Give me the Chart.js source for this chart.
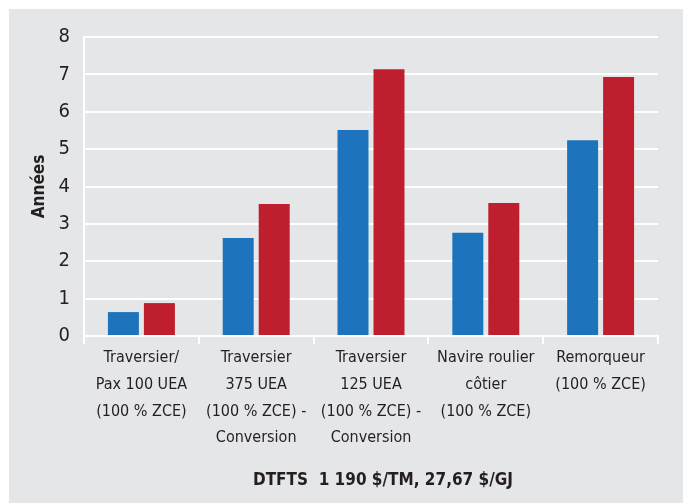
<!DOCTYPE html>
<html lang="fr">
<head>
<meta charset="utf-8">
<title>Années – DTFTS</title>
<script src="https://cdn.jsdelivr.net/npm/chart.js@4/dist/chart.umd.min.js"></script>
<style>
  html, body { margin: 0; padding: 0; background: #ffffff; }
  #frame { position: absolute; left: 9px; top: 9px; width: 674px; height: 494px; background: #e5e6e8; }
  canvas { display: block; }
</style>
</head>
<body>
<div id="frame"><canvas id="chart" width="674" height="494"></canvas></div>
<script>
// Navires (catégories) – libellés sur plusieurs lignes
const categories = [
  ["Traversier/", "Pax 100 UEA", "(100 % ZCE)"],
  ["Traversier", "375 UEA", "(100 % ZCE) -", "Conversion"],
  ["Traversier", "125 UEA", "(100 % ZCE) -", "Conversion"],
  ["Navire roulier", "côtier", "(100 % ZCE)"],
  ["Remorqueur", "(100 % ZCE)"]
];

// Années, première série (bleu)
const seriesBlue = [0.64, 2.62, 5.51, 2.76, 5.24];
// Années, seconde série (rouge)
const seriesRed = [0.88, 3.53, 7.14, 3.56, 6.93];

const yTicks = [0, 1, 2, 3, 4, 5, 6, 7, 8];
const yTitle = "Années";
const bottomTitle = "DTFTS  1 190 $/TM, 27,67 $/GJ";

const FONT = "'Liberation Sans Narrow', 'DejaVu Sans Condensed', 'Arial Narrow', sans-serif";
const TEXT = "#231f20";

// Titre centré sous le graphique
const bottomTitlePlugin = {
  id: "bottomTitle",
  afterDraw(chart) {
    const { ctx, chartArea } = chart;
    ctx.save();
    ctx.font = "bold 17px " + FONT;
    ctx.fillStyle = TEXT;
    ctx.textAlign = "center";
    ctx.textBaseline = "middle";
    ctx.fillText(bottomTitle, (chartArea.left + chartArea.right) / 2 + 12, 472);
    ctx.restore();
  }
};

new Chart(document.getElementById("chart"), {
  type: "bar",
  data: {
    labels: categories,
    datasets: [
      { data: seriesBlue, backgroundColor: "#1d74bc", borderWidth: 0 },
      { data: seriesRed, backgroundColor: "#be1e2d", borderWidth: 0 }
    ]
  },
  options: {
    responsive: false,
    devicePixelRatio: 1,
    animation: false,
    layout: { padding: { left: 0, top: 28, right: 25, bottom: 0 } },
    datasets: { bar: { categoryPercentage: 0.627, barPercentage: 0.861 } },
    plugins: {
      legend: { display: false },
      tooltip: { enabled: false },
      title: { display: false }
    },
    scales: {
      x: {
        offset: true,
        grid: {
          offset: true,
          color: (c) => (c.index === 0 || c.index === categories.length) ? "#ffffff" : "rgba(0,0,0,0)",
          lineWidth: 2,
          drawTicks: true,
          tickLength: 8,
          tickColor: "#ffffff",
          tickWidth: 2
        },
        border: { display: true, color: "#ffffff", width: 2 },
        ticks: {
          color: TEXT,
          font: { family: FONT, size: 16, lineHeight: 1.66 },
          padding: 1,
          maxRotation: 0,
          autoSkip: false
        },
        afterFit(scale) { scale.height = 167; }
      },
      y: {
        min: 0,
        max: 8,
        afterBuildTicks(scale) { scale.ticks = yTicks.map(v => ({ value: v })); },
        grid: { color: "#ffffff", lineWidth: 2, drawTicks: false },
        border: { display: true, color: "#ffffff", width: 2 },
        ticks: {
          color: TEXT,
          font: { family: FONT, size: 20 },
          padding: 14
        },
        title: {
          display: true,
          text: yTitle,
          color: TEXT,
          font: { family: FONT, size: 17, weight: "bold" },
          padding: { top: 20, bottom: 0 }
        },
        afterFit(scale) { scale.width = 75; }
      }
    }
  },
  plugins: [bottomTitlePlugin]
});
</script>
</body>
</html>
